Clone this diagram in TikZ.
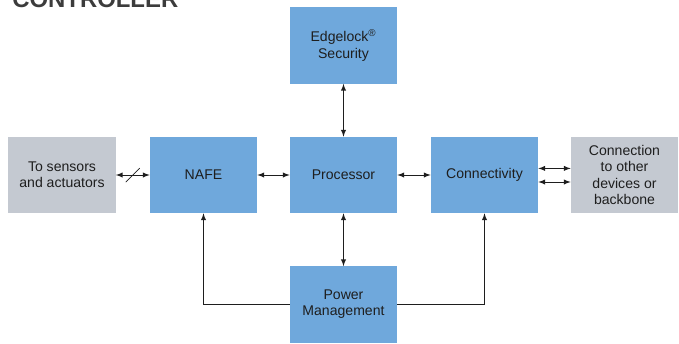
\documentclass[tikz,border=0pt]{standalone}
\usepackage{fontspec}
\setmainfont{Liberation Sans}
\usetikzlibrary{arrows}
\definecolor{blockblue}{RGB}{111,168,220}
\definecolor{blockgray}{RGB}{196,201,209}
\definecolor{txtdark}{RGB}{30,30,30}
\definecolor{titlegray}{RGB}{60,60,60}

\begin{document}
\begin{tikzpicture}[x=0.025cm,y=-0.025cm,
  blk/.style={fill=blockblue, minimum width=2.675cm, minimum height=1.9cm, align=center, inner sep=0pt, font=\fontsize{10}{11.5}\selectfont, text=txtdark},
  ext/.style={blk, fill=blockgray},
  link/.style={latex-latex, line width=0.7pt, draw=txtdark},
  feed/.style={-latex, line width=0.7pt, draw=txtdark}]
\useasboundingbox (0,0) rectangle (679,343);
%Title, cut off at the top
\node[anchor=base west, inner sep=0pt, font=\fontsize{17}{17}\selectfont\bfseries, text=titlegray] (title) at (12,7) {CONTROLLER};

%Top
\node[blk] (sec) at (343.5,45.5) {Edgelock\textsuperscript{®}\\Security};

%Middle row
\node[ext] (sens) at (62,175) {To sensors\\and actuators};
\node[blk] (nafe) at (203.5,175) {NAFE};
\node[blk] (proc) at (343.5,175) {Processor};
\node[blk] (conn) at (484.5,175) {Connectivity};
\node[ext] (other) at (624.5,175) {Connection\\to other\\devices or\\backbone};

%Bottom
\node[blk] (pwr) at (343.5,304.5) {Power\\Management};

%Links
\draw[link] (sens) -- node[inner sep=0pt] (cut) {} (nafe);
\draw[line width=0.5pt, draw=txtdark] ([shift={(-7,7)}]cut.center) -- ([shift={(7,-7)}]cut.center);
\draw[link] (nafe) -- (proc);
\draw[link] (proc) -- (conn);
\draw[link] ([yshift=0.165cm]conn.east) -- ([yshift=0.165cm]other.west);
\draw[link] ([yshift=-0.175cm]conn.east) -- ([yshift=-0.175cm]other.west);
\draw[link] (sec) -- (proc);
\draw[link] (proc) -- (pwr);
\draw[feed] (pwr.west) -| (nafe.south);
\draw[feed] (pwr.east) -| (conn.south);
\end{tikzpicture}
\end{document}
